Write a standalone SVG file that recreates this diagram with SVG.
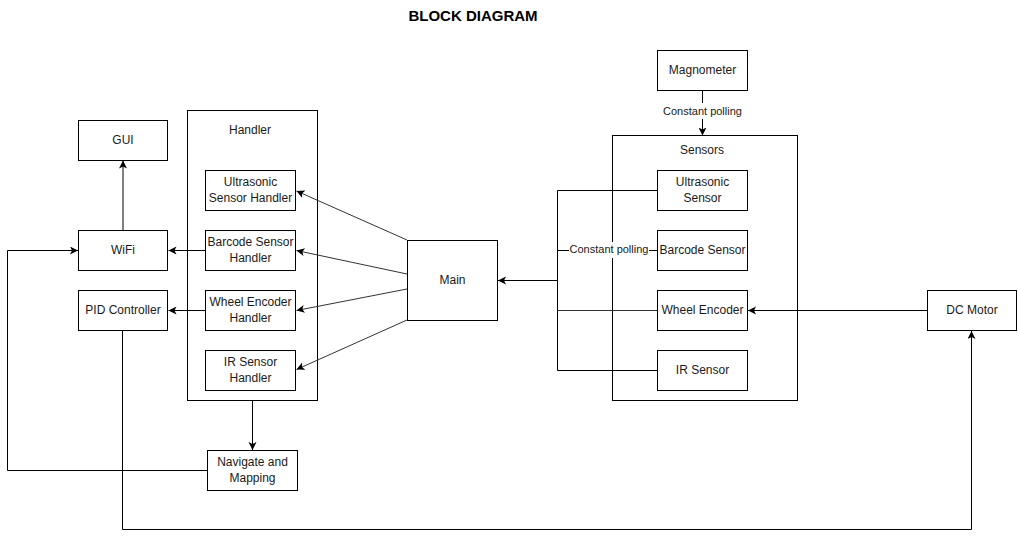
<svg xmlns="http://www.w3.org/2000/svg" width="1018" height="539" viewBox="0 0 1018 539">
<style>
.box{fill:#fff;stroke:#000;stroke-width:1}
.t{font-family:"Liberation Sans",Arial,sans-serif;font-size:12px;fill:#1a1a1a;text-anchor:middle}
.title{font-family:"Liberation Sans",Arial,sans-serif;font-size:15px;font-weight:bold;fill:#000;text-anchor:middle}
.c{fill:none;stroke:#000;stroke-width:1}
.g{fill:none;stroke:#333;stroke-width:1}
</style>
<defs>
<marker id="a" markerUnits="userSpaceOnUse" markerWidth="10" markerHeight="10" refX="8" refY="4" orient="auto">
<path d="M0,0 L8,4 L0,8 L2,4 Z" fill="#000"/>
</marker>
</defs>
<rect width="1018" height="539" fill="#fff"/>
<text class="title" x="473" y="21">BLOCK DIAGRAM</text>

<g id="handler-group">
<rect class="box" x="187.5" y="110.5" width="130" height="290"/>
<text class="t" x="250" y="134">Handler</text>
</g>
<g id="sensors-group">
<rect class="box" x="612.5" y="135.5" width="185" height="265"/>
<text class="t" x="702" y="154">Sensors</text>
</g>

<g id="connectors">
<line class="c" x1="123" y1="230" x2="123" y2="160.5" marker-end="url(#a)"/>
<polyline class="c" points="207,470.5 7.5,470.5 7.5,250.5 78,250.5" marker-end="url(#a)"/>
<polyline class="c" points="122.5,330 122.5,529.5 971.5,529.5 971.5,331" marker-end="url(#a)"/>
<line class="c" x1="205" y1="250.5" x2="168.5" y2="250.5" marker-end="url(#a)"/>
<line class="c" x1="205" y1="310.5" x2="168.5" y2="310.5" marker-end="url(#a)"/>
<line class="c" x1="252.5" y1="400" x2="252.5" y2="450" marker-end="url(#a)"/>
<line class="g" x1="407" y1="240" x2="296.5" y2="191" marker-end="url(#a)"/>
<line class="g" x1="407" y1="274" x2="296.5" y2="250.5" marker-end="url(#a)"/>
<line class="g" x1="407" y1="289" x2="296.5" y2="310.5" marker-end="url(#a)"/>
<line class="g" x1="407" y1="320" x2="296.5" y2="369.5" marker-end="url(#a)"/>
<line class="c" x1="702.5" y1="90" x2="702.5" y2="135.5" marker-end="url(#a)"/>
<rect x="661" y="103" width="83" height="16" fill="#fff"/>
<text class="t" x="702.5" y="115" style="font-size:11px">Constant polling</text>
<polyline class="c" points="657,190.5 557.5,190.5 557.5,370.5 657,370.5"/>
<line class="c" x1="557.5" y1="250.5" x2="657" y2="250.5"/>
<line class="g" x1="557.5" y1="310.5" x2="657" y2="310.5"/>
<line class="c" x1="557.5" y1="280.5" x2="498" y2="280.5" marker-end="url(#a)"/>
<rect x="569" y="242" width="80" height="16" fill="#fff"/>
<text class="t" x="609" y="253" style="font-size:11px">Constant polling</text>
<line class="c" x1="927" y1="310.5" x2="748" y2="310.5" marker-end="url(#a)"/>
</g>

<g id="gui"><rect class="box" x="78.5" y="120.5" width="89" height="40"/><text class="t" x="123" y="144">GUI</text></g>
<g id="wifi"><rect class="box" x="78.5" y="230.5" width="89" height="40"/><text class="t" x="123" y="254">WiFi</text></g>
<g id="pid"><rect class="box" x="78.5" y="290.5" width="89" height="40"/><text class="t" x="123" y="314">PID Controller</text></g>

<g id="ultrasonic-handler"><rect class="box" x="205.5" y="170.5" width="90" height="40"/><text class="t" x="250.5" y="186">Ultrasonic</text><text class="t" x="250.5" y="202">Sensor Handler</text></g>
<g id="barcode-handler"><rect class="box" x="205.5" y="230.5" width="90" height="40"/><text class="t" x="250.5" y="246">Barcode Sensor</text><text class="t" x="250.5" y="262">Handler</text></g>
<g id="wheel-handler"><rect class="box" x="205.5" y="290.5" width="90" height="40"/><text class="t" x="250.5" y="306">Wheel Encoder</text><text class="t" x="250.5" y="322">Handler</text></g>
<g id="ir-handler"><rect class="box" x="205.5" y="350.5" width="90" height="40"/><text class="t" x="250.5" y="366">IR Sensor</text><text class="t" x="250.5" y="382">Handler</text></g>

<g id="navigate"><rect class="box" x="207.5" y="450.5" width="90" height="40"/><text class="t" x="252.5" y="466">Navigate and</text><text class="t" x="252.5" y="482">Mapping</text></g>

<g id="main"><rect class="box" x="407.5" y="240.5" width="90" height="80"/><text class="t" x="452.5" y="284">Main</text></g>

<g id="magnometer"><rect class="box" x="657.5" y="50.5" width="90" height="40"/><text class="t" x="702.5" y="74">Magnometer</text></g>
<g id="ultrasonic-sensor"><rect class="box" x="657.5" y="170.5" width="90" height="40"/><text class="t" x="702.5" y="186">Ultrasonic</text><text class="t" x="702.5" y="202">Sensor</text></g>
<g id="barcode-sensor"><rect class="box" x="657.5" y="230.5" width="90" height="40"/><text class="t" x="702.5" y="254">Barcode Sensor</text></g>
<g id="wheel-encoder"><rect class="box" x="657.5" y="290.5" width="90" height="40"/><text class="t" x="702.5" y="314">Wheel Encoder</text></g>
<g id="ir-sensor"><rect class="box" x="657.5" y="350.5" width="90" height="40"/><text class="t" x="702.5" y="374">IR Sensor</text></g>

<g id="dc-motor"><rect class="box" x="927.5" y="290.5" width="89" height="40"/><text class="t" x="972" y="314">DC Motor</text></g>
</svg>
